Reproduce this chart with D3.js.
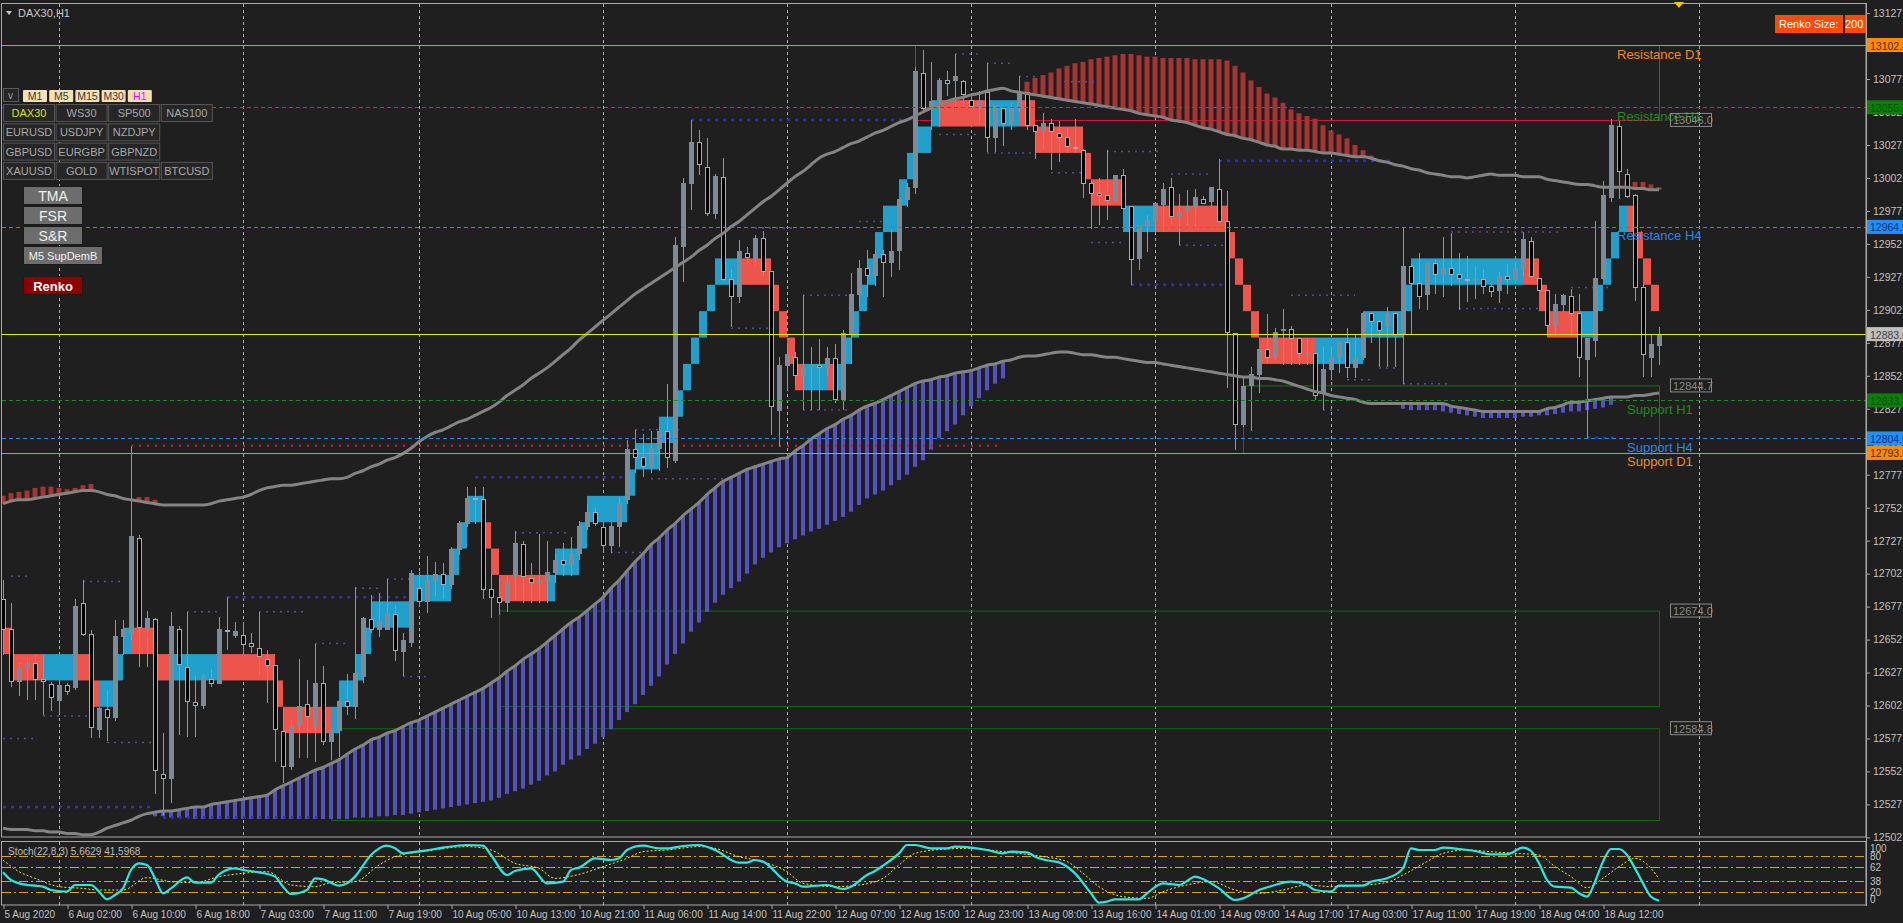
<!DOCTYPE html>
<html><head><meta charset="utf-8">
<script src="https://cdn.jsdelivr.net/npm/d3@7"></script>
<style>
body{margin:0;background:#1f1f1f;overflow:hidden}
svg{display:block}
text{font-family:"Liberation Sans",Arial,sans-serif}
</style></head>
<body><svg id="c" width="1903" height="923"></svg>
<script>
// ---------------- DATA ----------------
const timeIdx=[0,8,16,24,32,40,48,56,64,72,80,88,96,104,112,120,128,136,144,152,160,168,176,184,192,200];
const timeLabels=["5 Aug 2020","6 Aug 02:00","6 Aug 10:00","6 Aug 18:00","7 Aug 03:00","7 Aug 11:00","7 Aug 19:00","10 Aug 05:00","10 Aug 13:00","10 Aug 21:00","11 Aug 06:00","11 Aug 14:00","11 Aug 22:00","12 Aug 07:00","12 Aug 15:00","12 Aug 23:00","13 Aug 08:00","13 Aug 16:00","14 Aug 01:00","14 Aug 09:00","14 Aug 17:00","17 Aug 03:00","17 Aug 11:00","17 Aug 19:00","18 Aug 04:00","18 Aug 12:00"];
const daySeparators=[7,30,52,75,98,121,144,166,189,212];
const priceTicks=[12502,12527,12552,12577,12602,12627,12652,12677,12702,12727,12752,12777,12802,12827,12852,12877,12902,12927,12952,12977,13002,13027,13052,13077,13102,13127];
// o,h,l,c per H1 bar
const ohlc=[
[12682,12697,12640,12660],[12660,12680,12616,12620],[12620,12634,12609,12631],[12631,12639,12606,12634],[12634,12640,12606,12622],
[12622,12640,12595,12620],[12618,12620,12598,12608],[12606,12621,12595,12617],[12617,12619,12610,12613],[12616,12683,12614,12677],
[12679,12697,12655,12656],[12656,12659,12577,12585],[12584,12601,12577,12600],[12599,12614,12575,12593],[12593,12667,12590,12654],
[12654,12667,12640,12660],[12656,12798,12652,12730],[12729,12731,12631,12661],[12660,12674,12631,12668],[12667,12668,12535,12553],
[12550,12581,12519,12547],[12547,12673,12528,12662],[12660,12662,12580,12633],[12631,12673,12578,12605],[12604,12624,12578,12602],
[12602,12626,12599,12624],[12622,12630,12616,12619],[12619,12669,12618,12660],[12659,12684,12644,12658],[12655,12665,12653,12658],
[12655,12665,12642,12648],[12649,12657,12642,12647],[12645,12673,12625,12639],[12637,12644,12604,12632],[12632,12633,12559,12584],
[12582,12599,12543,12556],[12556,12591,12553,12586],[12587,12637,12562,12601],[12603,12621,12562,12594],[12586,12649,12559,12619],
[12619,12632,12572,12575],[12575,12585,12561,12583],[12583,12606,12563,12605],[12605,12626,12595,12601],[12601,12692,12592,12626],
[12624,12669,12619,12668],[12667,12686,12657,12660],[12660,12687,12654,12666],[12660,12698,12659,12672],[12671,12678,12636,12644],
[12643,12657,12624,12651],[12650,12705,12646,12702],[12691,12703,12677,12681],[12681,12715,12672,12697],[12697,12711,12685,12701],
[12701,12710,12683,12694],[12694,12722,12690,12720],[12720,12742,12716,12740],[12740,12768,12737,12759],[12759,12768,12740,12758],
[12758,12768,12683,12690],[12690,12702,12668,12684],[12684,12699,12671,12680],[12680,12700,12673,12696],[12700,12734,12682,12725],
[12724,12727,12680,12700],[12698,12710,12680,12695],[12695,12732,12680,12697],[12697,12727,12680,12703],[12703,12718,12695,12712],
[12712,12725,12700,12709],[12709,12730,12700,12717],[12717,12742,12712,12738],[12738,12755,12735,12748],[12748,12752,12738,12740],
[12737,12741,12720,12723],[12723,12742,12718,12738],[12738,12760,12722,12755],[12758,12803,12755,12796],[12796,12811,12778,12790],
[12790,12808,12775,12783],[12783,12810,12778,12797],[12797,12813,12780,12810],[12810,12846,12782,12790],[12788,12957,12786,12951],
[12950,13002,12923,12998],[12998,13046,12978,13029],[13029,13038,13004,13012],[13010,13032,12973,12975],[12975,13005,12971,13003],
[13002,13017,12924,12925],[12925,12933,12889,12912],[12912,12955,12907,12946],[12945,12950,12937,12942],[12941,12959,12935,12956],
[12956,12962,12928,12931],[12931,12931,12807,12829],[12826,12866,12798,12860],[12860,12876,12841,12868],[12866,12870,12845,12852],
[12852,12913,12826,12858],[12858,12874,12826,12860],[12860,12880,12826,12858],[12858,12874,12852,12865],[12865,12876,12831,12834],
[12834,12887,12826,12884],[12884,12930,12861,12914],[12914,12940,12905,12933],[12933,12947,12912,12928],[12928,12948,12920,12944],
[12944,12947,12912,12938],[12938,12963,12927,12946],[12947,12986,12932,12986],[12986,12998,12980,12995],[12995,13086,12990,13083],
[13081,13099,13052,13055],[13055,13090,13038,13060],[13061,13078,13041,13076],[13076,13083,13064,13074],[13076,13096,13054,13079],
[13075,13076,13056,13065],[13061,13065,13054,13056],[13056,13068,13043,13060],[13067,13089,13022,13033],[13033,13057,13022,13057],
[13055,13055,13026,13043],[13043,13059,13038,13055],[13055,13079,13052,13067],[13067,13067,13038,13042],[13042,13042,13016,13037],
[13037,13051,13024,13043],[13043,13047,13008,13037],[13036,13045,13014,13033],[13033,13040,13021,13026],[13025,13047,13021,13024],
[13023,13024,12987,12998],[12998,13000,12963,12990],[12990,13002,12966,12989],[12989,13023,12970,12985],[12985,13004,12985,13004],
[13004,13009,12978,12979],[12980,12981,12921,12940],[12941,12966,12932,12966],[12965,12974,12946,12970],[12970,12983,12961,12983],
[12982,12998,12961,12993],[12995,13002,12968,12973],[12973,12990,12951,12976],[12977,12993,12966,12980],[12980,12994,12965,12987],
[12986,12988,12983,12983],[12984,12995,12980,12995],[12993,13016,12968,12969],[12969,12992,12843,12885],[12884,12884,12796,12815],
[12815,12851,12813,12844],[12845,12859,12810,12853],[12853,12872,12839,12872],[12872,12899,12862,12866],[12866,12888,12864,12885],
[12886,12903,12860,12887],[12887,12890,12860,12880],[12880,12881,12860,12869],[12869,12881,12860,12869],[12869,12869,12834,12837],
[12839,12874,12826,12857],[12857,12874,12849,12866],[12866,12878,12854,12877],[12877,12888,12850,12858],[12858,12884,12850,12865],
[12866,12900,12864,12899],[12899,12899,12877,12893],[12893,12894,12859,12886],[12889,12904,12859,12899],[12899,12899,12859,12883],
[12883,12965,12846,12935],[12935,12937,12883,12922],[12922,12945,12903,12912],[12914,12937,12902,12937],[12937,12940,12914,12929],
[12929,12957,12912,12933],[12933,12960,12920,12929],[12929,12945,12902,12926],[12925,12943,12908,12924],[12924,12935,12910,12925],
[12925,12933,12914,12920],[12920,12922,12912,12916],[12917,12931,12907,12927],[12927,12937,12914,12925],[12925,12938,12922,12933],
[12933,12961,12928,12955],[12954,12957,12926,12927],[12926,12926,12916,12917],[12917,12917,12882,12890],[12890,12914,12882,12906],
[12906,12914,12900,12913],[12912,12918,12882,12899],[12899,12914,12851,12866],[12864,12881,12804,12880],[12879,12969,12866,12926],
[12926,13000,12925,12989],[12987,13047,12984,13042],[13041,13045,12986,13007],[13005,13009,12987,12988],[12989,12990,12909,12919],
[12919,12922,12851,12868],[12866,12884,12851,12876],[12875,12889,12860,12883.6]];
const upperBand=[12755,12757,12758,12758,12759,12760,12761,12762,12763,12764,12765,12765,12764,12762,12761,12759,12758,12757,12756,12755,
12754,12754,12754,12754,12754,12754,12755,12757,12758,12759,12760,12762,12765,12767,12768,12769,12769,12770,12771,12772,
12773,12774,12774,12775,12778,12780,12783,12785,12788,12790,12793,12797,12802,12806,12809,12811,12814,12817,12819,12822,
12825,12828,12832,12837,12841,12845,12850,12854,12858,12863,12868,12873,12879,12884,12889,12894,12899,12904,12909,12914,
12918,12922,12926,12930,12934,12938,12942,12947,12951,12956,12960,12965,12969,12974,12979,12984,12988,12993,12998,13003,
13007,13012,13017,13020,13022,13025,13028,13030,13033,13036,13038,13041,13044,13046,13049,13052,13055,13057,13060,13062,
13063,13065,13066,13068,13069,13070,13068,13067,13066,13065,13064,13063,13062,13061,13060,13059,13058,13057,13056,13055,
13054,13053,13051,13050,13049,13048,13046,13045,13044,13042,13040,13039,13037,13035,13034,13032,13031,13029,13027,13026,
13024,13024,13023,13023,13022,13021,13021,13020,13019,13018,13018,13017,13015,13014,13012,13011,13009,13008,13006,13005,
13004,13003,13003,13002,13003,13004,13005,13004,13004,13004,13003,13003,13003,13001,13000,12999,12998,12997,12997,12996,
12995,12995,12995,12995,12994,12994,12993,12993];
const lowerBand=[12509,12508,12508,12508,12507,12507,12506,12506,12505,12505,12504,12504,12506,12509,12511,12513,12515,12518,12520,12521,
12522,12522,12523,12524,12525,12525,12527,12528,12529,12530,12531,12532,12533,12534,12538,12541,12544,12547,12550,12553,
12555,12558,12561,12565,12569,12572,12576,12578,12581,12583,12586,12589,12591,12594,12597,12600,12603,12606,12609,12612,
12615,12619,12623,12628,12632,12637,12641,12645,12650,12655,12660,12665,12669,12674,12679,12684,12691,12697,12704,12711,
12717,12724,12729,12735,12740,12746,12751,12756,12762,12767,12772,12775,12778,12781,12783,12785,12787,12789,12790,12795,
12799,12804,12808,12812,12815,12819,12822,12826,12829,12831,12834,12837,12840,12843,12846,12848,12849,12851,12852,12854,
12855,12856,12858,12860,12861,12863,12864,12866,12867,12867,12868,12869,12870,12870,12869,12868,12868,12867,12866,12866,
12865,12864,12863,12862,12862,12861,12860,12859,12858,12857,12856,12855,12854,12853,12852,12851,12851,12850,12850,12849,
12848,12846,12844,12842,12840,12839,12837,12836,12835,12834,12832,12831,12831,12831,12831,12831,12831,12831,12831,12831,
12831,12829,12828,12827,12826,12825,12825,12825,12825,12825,12825,12825,12825,12827,12828,12830,12832,12832,12833,12834,
12835,12836,12836,12836,12837,12837,12838,12839];
// histogram below lower band (first bar index, bottom values)
const purpleFrom=[19,175];
const purpleLow=[
[12518,12518,12517,12517,12517,12516,12516,12516,12516,12516,12516,12516,12516,12516,12516,12516,12516,12516,12516,12516,
12516,12516,12516,12516,12516,12517,12517,12517,12518,12518,12519,12519,12520,12521,12522,12523,12524,12525,12526,12527,
12528,12529,12530,12532,12535,12537,12539,12542,12545,12549,12552,12557,12561,12564,12569,12573,12578,12584,12591,12597,
12603,12610,12617,12624,12633,12641,12649,12658,12665,12673,12680,12686,12691,12696,12702,12709,12714,12718,12722,12725,
12728,12731,12734,12736,12739,12742,12745,12749,12754,12759,12762,12765,12769,12773,12777,12783,12788,12796,12805,12810,
12815,12822,12829,12835,12841,12846,12850],
[12827,12826,12826,12826,12826,12825,12824,12823,12822,12821,12820,12820,12820,12820,12820,12821,12821,12822,12822,12823,
12824,12825,12825,12826,12827,12828,12830]];
// histogram above upper band
const redFrom=[0,17,128,203];
const redHigh=[
[12761,12763,12764,12765,12767,12768,12768,12767,12766,12767,12769,12770],
[12760,12760,12758],
[13075,13078,13080,13082,13085,13087,13089,13090,13092,13093,13094,13095,13096,13096,13095,13094,13094,13093,13093,13093,
13093,13092,13092,13092,13092,13091,13087,13082,13076,13071,13066,13063,13059,13054,13051,13049,13047,13042,13038,13035,
13032,13027,13023,13019],
[13000,12999,12999,12997,12995]];
// renko bricks: start bar, end bar, brick low, direction
const renko=[[0,1,12641,-1],[1,5,12621,-1],[5,9,12621,1],[9,11,12621,-1],[11,12,12601,-1],[12,14,12601,1],[14,15,12621,1],[15,16,12641,1],
[16,19,12641,-1],[19,21,12621,-1],[21,27,12621,1],[27,34,12621,-1],[34,35,12601,-1],[35,41,12581,-1],[41,42,12581,1],[42,44,12601,1],
[44,45,12621,1],[45,46,12641,1],[46,51,12661,1],[51,56,12681,1],[56,57,12701,1],[57,58,12721,1],[58,60,12741,1],[60,61,12721,-1],
[61,62,12701,-1],[62,68,12681,-1],[68,69,12681,1],[69,72,12701,1],[72,73,12721,1],[73,78,12741,1],[78,79,12761,1],[79,82,12781,1],
[82,84,12801,1],[84,85,12821,1],[85,86,12841,1],[86,87,12861,1],[87,88,12881,1],[88,89,12901,1],[89,92,12921,1],[92,96,12921,-1],
[96,97,12901,-1],[97,98,12881,-1],[98,99,12861,-1],[99,100,12841,-1],[100,103,12841,1],[103,104,12841,-1],[104,105,12841,1],
[105,106,12861,1],[106,107,12881,1],[107,108,12901,1],[108,109,12921,1],[109,110,12941,1],[110,112,12961,1],[112,113,12981,1],
[113,114,13001,1],[114,116,13021,1],[116,117,13041,1],[117,123,13041,-1],[123,127,13041,1],[127,129,13041,-1],[129,135,13021,-1],
[135,136,13001,-1],[136,140,12981,-1],[140,144,12961,1],[144,153,12961,-1],[153,154,12941,-1],[154,155,12921,-1],[155,156,12901,-1],
[156,157,12881,-1],[157,164,12861,-1],[164,170,12861,1],[170,175,12881,1],[175,176,12901,1],[176,190,12921,1],[190,192,12921,-1],
[192,193,12901,-1],[193,197,12881,-1],[197,199,12881,1],[199,200,12901,1],[200,201,12921,1],[201,202,12941,1],[202,203,12961,1],
[203,204,12961,-1],[204,205,12941,-1],[205,206,12921,-1],[206,207,12901,-1]];
const brickSize=20;
// fractal S/R dotted segments: start bar, end bar, price, kind
const srDots=[[1,3,12700,0],[10,15,12696,0],[28,53,12684,1],[23,27,12673,0],[32,38,12673,0],[39,43,12649,0],[44,47,12691,0],[48,51,12698,0],
[50,53,12624,0],[5,11,12594,0],[0,4,12577,0],[13,19,12574,0],[0,19,12525,1],[20,40,12517,1],[16,125,12799,2],[86,113,13046,1],
[94,99,12964,0],[100,106,12913,0],[91,96,12888,0],[100,106,12826,0],[79,85,12811,0],[59,78,12775,1],[81,90,12774,0],[64,71,12733,0],
[76,80,12718,0],[119,122,13096,0],[123,126,13089,0],[127,129,13079,0],[130,137,13075,0],[117,122,13035,0],[123,129,13021,0],
[131,135,13006,0],[138,145,13022,0],[152,174,13015,1],[146,151,13005,0],[107,112,12969,0],[136,140,12953,0],[147,154,12951,0],
[141,154,12921,1],[181,195,12961,0],[161,169,12913,0],[182,192,12903,0],[172,174,12858,0],[168,171,12849,0],[175,181,12846,0],
[165,167,12826,0],[196,201,12919,0],[198,202,12805,1]];
// zone rectangles: start bar, end bar, low, high, label
const zones=[[114,207,13046.0,13102.8,"13046.0"],[155,207,12793.5,12844.7,"12844.7"],[62,207,12601.6,12674.0,"12674.0"],[41,207,12515.2,12584.8,"12584.8"]];
const levelPrices=[13102.8,13055.6,12964.9,12883.6,12833.3,12804.5,12793.5];
const levelKinds=["D1","H1","H4","bid","H1","H4","D1"];
const levelNames=["Resistance D1","Resistance H1","Resistance H4","","Support H1","Support H4","Support D1"];
const stochMain=[[0,52.8],[1,40],[3,31.7],[4,30.6],[5,28.9],[6,23.3],[8,20.6],[9,31.7],[11,31.7],[12,20.6],[13,7.8],[14,15],[15,26],[16,56.7],[17,67.8],[18,65],[19,42.8],[20,17.8],[21,26],[23,44.4],[24,35.6],[26,35.6],[27,49.4],[29,59.4],[30,56.7],[32,52.8],[34,45.6],[35,28.9],[36,16.7],[38,23.3],[39,42.8],[40,41.1],[42,30.6],[43,34.4],[44,45.6],[46,81.7],[48,97.2],[49,92.8],[50,84.4],[51,86.1],[53,89.4],[55,93.9],[58,98.3],[60,97.2],[61,81.7],[63,48.3],[64,55],[66,59.4],[68,34.4],[70,37.2],[71,56.7],[72,60.6],[74,76.1],[76,73.3],[77,76.1],[78,90],[80,97.2],[82,92.8],[83,92.8],[85,96.7],[87,98.3],[89,90],[92,68.9],[93,68.9],[94,73.3],[95,70.6],[98,37.2],[99,34.4],[100,28.9],[103,31.7],[105,25],[106,28.9],[108,48.3],[109,55],[110,63.9],[112,84.4],[113,98.3],[114,98.3],[116,92.8],[118,92.8],[119,95.6],[121,93.9],[123,90],[125,84.4],[126,87.2],[128,86.1],[129,78.9],[131,71.7],[132,69.4],[134,51.1],[136,17.8],[137,2.2],[138,3.9],[139,7.8],[142,7.8],[143,17.8],[145,34.4],[147,31.7],[148,38.3],[149,45.6],[150,41.7],[152,26.1],[154,6.7],[155,9.4],[157,23.3],[159,31.7],[161,37.2],[163,31.7],[164,23.3],[166,20.6],[167,30.6],[170,30.6],[171,37.2],[173,42.8],[175,59.4],[176,92.8],[177,90],[179,90],[180,93.9],[182,91.7],[184,88.3],[186,82.8],[188,82.8],[190,93.9],[191,88.3],[192,67.8],[193,40],[194,28.9],[196,27.2],[197,17.8],[198,12.2],[199,37.2],[200,70.6],[201,91.7],[202,91.7],[203,81.7],[204,59.4],[205,34.4],[206,12.2],[207,5.66]];
const stochSignal=[[0,73.3],[2,53.9],[4,42.8],[7,28.9],[10,26],[12,23.3],[15,23.3],[18,43.9],[21,37.2],[24,35.6],[27,45.6],[30,51.1],[33,53.9],[36,31.7],[39,28.9],[41,35.6],[44,37.2],[47,65],[49,78.9],[53,88.3],[58,95.6],[61,90],[64,67.8],[67,59.4],[69,42.8],[72,49.4],[75,62.2],[78,76.1],[80,87.2],[83,90],[87,95.6],[89,92.8],[92,78.9],[94,73.3],[98,53.9],[100,34.4],[104,28.9],[107,31.7],[110,42.8],[112,65],[114,84.4],[118,91.7],[121,92.8],[125,87.2],[130,78.9],[133,70.6],[135,51.1],[137,28.9],[140,12.2],[143,9.4],[145,20.6],[148,31.7],[151,37.2],[154,23.3],[157,17.8],[160,23.3],[163,31.7],[166,28.9],[169,30.6],[173,36.1],[175,48.3],[178,70.6],[180,84.4],[183,90],[186,87.2],[189,84.4],[192,81.7],[194,62.2],[196,45.6],[198,27.2],[200,42.8],[202,62.2],[204,76.1],[206,59.4],[207,41.6]];
const stochLevels=[80,62,38,20];
const stochAxis=[100,80,62,38,20,0];
const tfButtons=["M1","M5","M15","M30","H1"];
const symbolRows=[["DAX30","WS30","SP500","NAS100"],["EURUSD","USDJPY","NZDJPY"],["GBPUSD","EURGBP","GBPNZD"],["XAUUSD","GOLD","WTISPOT","BTCUSD"]];
const toolButtons=["TMA","FSR","S&R","M5 SupDemB"];

// ---------------- DRAW ----------------
const svg=d3.select("#c");
const X=d3.scaleLinear().domain([0,1]).range([3,11]);
const Y=d3.scaleLinear().domain([12502.3,13133.9]).range([837,4]);
const YS=d3.scaleLinear().domain([0,100]).range([904,844]);
const AX=1866;
svg.append("rect").attr("width",1903).attr("height",923).attr("fill","#1f1f1f");
const defs=svg.append("defs");
defs.append("clipPath").attr("id","cm").append("rect").attr("x",2).attr("y",4).attr("width",AX-2).attr("height",833);
defs.append("clipPath").attr("id","cs").append("rect").attr("x",2).attr("y",842).attr("width",AX-2).attr("height",63);
defs.append("clipPath").attr("id","cr").append("rect").attr("x",1845).attr("y",14).attr("width",21).attr("height",20);

const gm=svg.append("g").attr("clip-path","url(#cm)");
const gs=svg.append("g").attr("clip-path","url(#cs)");

// day separators
[gm,gs].forEach((g,k)=>{
  g.selectAll("line.sep").data(daySeparators).join("line").attr("class","sep")
   .attr("x1",d=>X(d)+0.5).attr("x2",d=>X(d)+0.5).attr("y1",k?842:4).attr("y2",k?905:837)
   .attr("stroke","#cfcfcf").attr("stroke-dasharray","3,3").attr("opacity",0.8);
});

// zones
const zoneCol=["#dc143c","#0f7a0f","#0f6a0f","#0f6a0f"];
gm.selectAll("rect.zone").data(zones).join("rect").attr("class","zone")
  .attr("x",d=>X(d[0])+0.5).attr("width",d=>X(d[1])-X(d[0]))
  .attr("y",d=>Y(d[3])+0.5).attr("height",d=>Y(d[2])-Y(d[3]))
  .attr("fill","none").attr("stroke",(d,i)=>zoneCol[i]).attr("stroke-width",1);

// histograms
purpleFrom.forEach((f,k)=>{
  gm.append("g").selectAll("rect").data(purpleLow[k]).join("rect")
   .attr("x",(d,j)=>X(f+j)-2).attr("width",4)
   .attr("y",(d,j)=>Y(lowerBand[f+j])).attr("height",(d,j)=>Math.max(0,Y(d)-Y(lowerBand[f+j])))
   .attr("fill","#5552c0");
});
redFrom.forEach((f,k)=>{
  gm.append("g").selectAll("rect").data(redHigh[k]).join("rect")
   .attr("x",(d,j)=>X(f+j)-2.5).attr("width",5)
   .attr("y",d=>Y(d)).attr("height",(d,j)=>Math.max(0,Y(upperBand[f+j])-Y(d)))
   .attr("fill","#a53434");
});

// S/R dotted segments
const dotStyle=[{c:"#4e4ea8",w:1.5,d:"2,5"},{c:"#2c2cd0",w:2.5,d:"3,5"},{c:"#e01818",w:2,d:"2,6"}];
gm.selectAll("line.sr").data(srDots).join("line").attr("class","sr")
  .attr("x1",d=>X(d[0])).attr("x2",d=>X(d[1])).attr("y1",d=>Y(d[2])).attr("y2",d=>Y(d[2]))
  .attr("stroke",d=>dotStyle[d[3]].c).attr("stroke-width",d=>dotStyle[d[3]].w).attr("stroke-dasharray",d=>dotStyle[d[3]].d);

// renko bricks
gm.selectAll("rect.rk").data(renko).join("rect").attr("class","rk")
  .attr("x",d=>X(d[0])).attr("width",d=>X(d[1])-X(d[0]))
  .attr("y",d=>Y(d[2]+brickSize)).attr("height",d=>Y(d[2])-Y(d[2]+brickSize))
  .attr("fill",d=>d[3]>0?"#21a0cc":"#ec544c");

// candles
const cg=gm.append("g").attr("shape-rendering","crispEdges");
cg.selectAll("line").data(ohlc).join("line")
  .attr("x1",(d,i)=>X(i)+0.5).attr("x2",(d,i)=>X(i)+0.5).attr("y1",d=>Y(d[1])).attr("y2",d=>Y(d[2]))
  .attr("stroke","#8f98a1");
cg.selectAll("rect").data(ohlc).join("rect")
  .attr("x",(d,i)=>X(i)-1.5).attr("width",4)
  .attr("y",d=>Y(Math.max(d[0],d[3]))).attr("height",d=>Math.max(1,Y(Math.min(d[0],d[3]))-Y(Math.max(d[0],d[3]))))
  .attr("fill",d=>d[3]>=d[0]?"#7d8a97":"#000").attr("stroke",d=>d[3]>=d[0]?"#7d8a97":"#a3abb3");

// TMA bands
const bl=d3.line().x((d,i)=>X(i)).y(d=>Y(d)).curve(d3.curveMonotoneX);
gm.append("path").attr("d",bl(upperBand)).attr("fill","none").attr("stroke","#848484").attr("stroke-width",3);
gm.append("path").attr("d",bl(lowerBand)).attr("fill","none").attr("stroke","#848484").attr("stroke-width",3);

// level lines
const lvStyle={D1:{c:"#f08a1c",d:null},H1:{c:"#1f8a1f",d:"4,3"},H4:{c:"#2a86e8",d:"4,3"},bid:{c:"#e6e61e",d:null}};
gm.selectAll("line.lv").data(levelPrices).join("line").attr("class","lv")
  .attr("x1",2).attr("x2",AX).attr("y1",d=>Math.round(Y(d))+0.5).attr("y2",d=>Math.round(Y(d))+0.5)
  .attr("stroke",(d,i)=>lvStyle[levelKinds[i]].c).attr("stroke-dasharray",(d,i)=>lvStyle[levelKinds[i]].d);
gm.selectAll("text.lvn").data(levelPrices).join("text").attr("class","lvn")
  .attr("x",(d,i)=>i<3?1617:1627).attr("y",d=>Y(d)+13.5)
  .attr("font-size",13).attr("fill",(d,i)=>lvStyle[levelKinds[i]].c).text((d,i)=>levelNames[i]);

// zone value boxes
const zl=gm.selectAll("g.zl").data(zones).join("g").attr("class","zl")
  .attr("transform",(d,i)=>`translate(${X(d[1])+11},${Y(i===0?d[2]:d[3])})`);
zl.append("rect").attr("x",0.5).attr("y",-6.5).attr("width",41).attr("height",13).attr("fill","none").attr("stroke","#8a8a8a");
zl.append("text").attr("x",3).attr("y",4.5).attr("font-size",11).attr("fill","#8a8a8a").text(d=>d[4]);

// frames
svg.append("rect").attr("x",1.5).attr("y",3.5).attr("width",AX-1.5).attr("height",833.5).attr("fill","none").attr("stroke","#a9a9a9");
svg.append("rect").attr("x",1.5).attr("y",841.5).attr("width",AX-1.5).attr("height",63.5).attr("fill","none").attr("stroke","#a9a9a9");

// price axis
const pa=svg.append("g").attr("transform",`translate(${AX},0)`)
  .call(d3.axisRight(Y).tickValues(priceTicks).tickFormat(d3.format(".1f")).tickSize(4).tickPadding(3));
pa.select(".domain").remove();
pa.selectAll("line").attr("stroke","#a9a9a9");
pa.selectAll("text").attr("fill","#c2c2c2").attr("font-size",10.5).attr("font-family","Liberation Sans,Arial,sans-serif");

// price tags
const tagStyle={D1:{bg:"#ff8c00",fg:"#4a2800"},H1:{bg:"#0a800a",fg:"#035203"},H4:{bg:"#1e90ff",fg:"#0b2f6b"},bid:{bg:"#c0c0c0",fg:"#404040"}};
const tg=svg.selectAll("g.tag").data(levelPrices).join("g").attr("class","tag").attr("transform",d=>`translate(${AX},${Y(d)})`);
tg.append("rect").attr("x",0).attr("y",-7).attr("width",40).attr("height",14).attr("fill",(d,i)=>tagStyle[levelKinds[i]].bg);
tg.append("text").attr("x",4).attr("y",4.5).attr("font-size",10.5).attr("fill",(d,i)=>tagStyle[levelKinds[i]].fg).text(d=>d.toFixed(1));

// stochastic
gs.selectAll("line.sl").data(stochLevels).join("line").attr("class","sl")
  .attr("x1",2).attr("x2",AX).attr("y1",d=>Math.round(YS(d))+0.5).attr("y2",d=>Math.round(YS(d))+0.5)
  .attr("stroke","#d9a21f").attr("stroke-dasharray","9,3,2,3");
const sl=d3.line().x(d=>X(d[0])).y(d=>YS(d[1])).curve(d3.curveMonotoneX);
gs.append("path").attr("d",sl(stochSignal)).attr("fill","none").attr("stroke","#f2ee20").attr("stroke-width",1).attr("stroke-dasharray","2,2");
gs.append("path").attr("d",sl(stochMain)).attr("fill","none").attr("stroke","#2ee6e0").attr("stroke-width",2.2);
svg.append("text").attr("x",8).attr("y",855).attr("font-size",10).attr("fill","#bdbdbd").text("Stoch(22,8,3) 5.6629 41.5968");
svg.selectAll("text.sa").data(stochAxis).join("text").attr("class","sa")
  .attr("x",AX+4).attr("y",(d,i)=>YS(d)+(i===0?8:i===5?-1:4)).attr("font-size",10).attr("fill","#c2c2c2").text(d=>d);
svg.append("line").attr("x1",AX+0.5).attr("x2",AX+0.5).attr("y1",3).attr("y2",906).attr("stroke","#a9a9a9");

// time axis
const ta=svg.append("g").attr("transform","translate(0,905)")
  .call(d3.axisBottom(X).tickValues(timeIdx).tickFormat((d,k)=>timeLabels[k]).tickSize(4).tickPadding(2));
ta.select(".domain").remove();
ta.selectAll("line").attr("stroke","#a9a9a9").attr("transform","translate(0.5,0)");
ta.selectAll("text").attr("text-anchor","start").attr("dx",1).attr("fill","#c2c2c2").attr("font-size",10).attr("font-family","Liberation Sans,Arial,sans-serif");

// title
svg.append("path").attr("d","M6,11 L12,11 L9,15 Z").attr("fill","#c8c8c8");
svg.append("text").attr("x",18).attr("y",17).attr("font-size",11).attr("fill","#c8c8c8").text("DAX30,H1");
svg.append("path").attr("d","M1674,2 L1684,2 L1679,8 Z").attr("fill","#f5c400");

// Renko size button
svg.append("rect").attr("x",1775).attr("y",15).attr("width",68).attr("height",18).attr("fill","#ff4a0a");
svg.append("rect").attr("x",1845).attr("y",15).attr("width",21).attr("height",18).attr("fill","#ff4a0a");
svg.append("text").attr("x",1779).attr("y",28).attr("font-size",11).attr("fill","#fff").text("Renko Size:");
svg.append("text").attr("x",1845).attr("y",28).attr("font-size",11).attr("fill","#fff").attr("clip-path","url(#cr)").text("200");

// buttons panel
svg.append("rect").attr("x",3.5).attr("y",88.5).attr("width",15).attr("height",13).attr("fill","#262626").attr("stroke","#5a5a5a");
svg.append("text").attr("x",8).attr("y",99).attr("font-size",10).attr("fill","#a0a0a0").text("v");
const tf=svg.selectAll("g.tf").data(tfButtons).join("g").attr("class","tf").attr("transform",(d,i)=>`translate(${23+i*26.2},90)`);
tf.append("rect").attr("width",24).attr("height",12).attr("rx",1).attr("fill","#f6dfb4");
tf.append("text").attr("x",12).attr("y",10).attr("text-anchor","middle").attr("font-size",10.5).attr("fill",d=>d==="H1"?"#ff00ff":"#3a3a3a").text(d=>d);
symbolRows.forEach((row,r)=>{
  const g=svg.selectAll("g.sym"+r).data(row).join("g").attr("transform",(d,i)=>`translate(${3.5+i*52.6},${104.5+r*19.3})`);
  g.append("rect").attr("width",51).attr("height",17).attr("fill","#262626").attr("stroke","#555");
  g.append("text").attr("x",25.5).attr("y",12.5).attr("text-anchor","middle").attr("font-size",11)
   .attr("fill",d=>d==="DAX30"?"#dede10":"#a8a8a8").text(d=>d);
});
const tb=svg.selectAll("g.tb").data(toolButtons).join("g").attr("class","tb").attr("transform",(d,i)=>`translate(23.5,${186.5+i*20})`);
tb.append("rect").attr("width",(d,i)=>i===3?79:59).attr("height",18).attr("fill","#6d6d6d").attr("stroke","#1a1a1a");
tb.append("text").attr("x",(d,i)=>i===3?39.5:29.5).attr("y",(d,i)=>i===3?13:14).attr("text-anchor","middle")
  .attr("font-size",(d,i)=>i===3?11:14).attr("fill","#f0f0f0").text(d=>d);
svg.append("rect").attr("x",23.5).attr("y",276.5).attr("width",59).attr("height",18).attr("fill","#8e0000").attr("stroke","#1a1a1a");
svg.append("text").attr("x",53).attr("y",290.5).attr("text-anchor","middle").attr("font-size",13).attr("font-weight","bold").attr("fill","#ffffff").text("Renko");
</script>
</body></html>
